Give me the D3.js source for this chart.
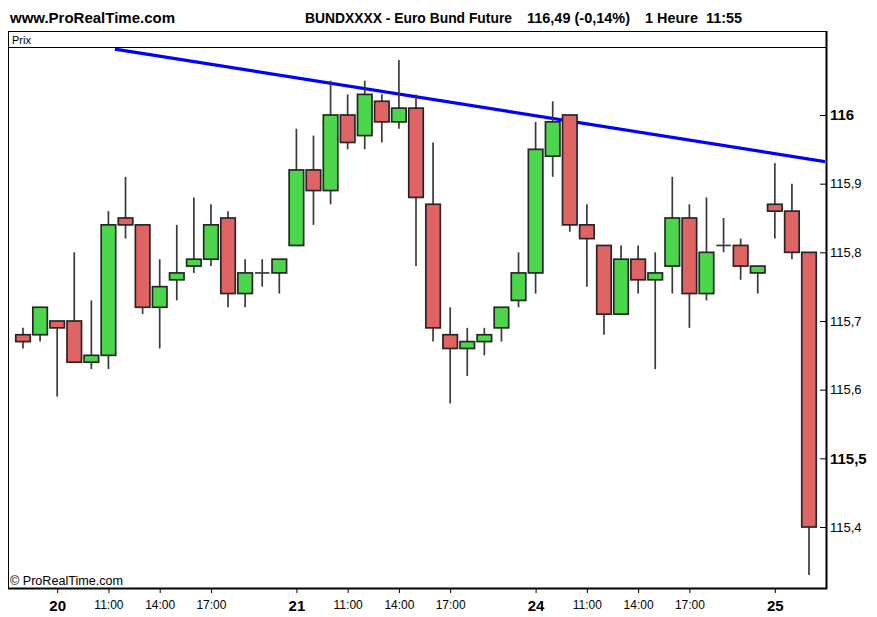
<!DOCTYPE html>
<html><head><meta charset="utf-8">
<script src="https://cdn.jsdelivr.net/npm/d3@7"></script>
<style>body{margin:0;background:#fff}svg{display:block}text{font-family:"Liberation Sans",Arial,sans-serif}</style>
</head><body>
<svg id="c" width="877" height="617"></svg>
<script>
// ---- data ----
const categories = [
 "19 20:00","19 21:00",
 "20 08:00","20 09:00","20 10:00","20 11:00","20 12:00","20 13:00","20 14:00","20 15:00","20 16:00","20 17:00","20 18:00","20 19:00","20 20:00","20 21:00",
 "21 08:00","21 09:00","21 10:00","21 11:00","21 12:00","21 13:00","21 14:00","21 15:00","21 16:00","21 17:00","21 18:00","21 19:00","21 20:00","21 21:00",
 "24 08:00","24 09:00","24 10:00","24 11:00","24 12:00","24 13:00","24 14:00","24 15:00","24 16:00","24 17:00","24 18:00","24 19:00","24 20:00","24 21:00",
 "25 08:00","25 09:00","25 10:00"];
const open  = [115.68,115.68,115.70,115.70,115.64,115.65,115.85,115.84,115.72,115.76,115.78,115.79,115.85,115.74,115.77,115.77,
               115.81,115.92,115.89,116.00,115.97,116.02,115.99,116.01,115.87,115.68,115.66,115.67,115.69,115.73,
               115.77,115.94,116.00,115.84,115.81,115.71,115.79,115.76,115.78,115.85,115.74,115.81,115.81,115.77,
               115.87,115.86,115.80];
const high  = [115.69,115.72,115.70,115.80,115.73,115.86,115.91,115.84,115.79,115.84,115.88,115.87,115.86,115.79,115.79,115.79,
               115.98,115.97,116.05,116.03,116.05,116.03,116.08,116.03,115.96,115.72,115.69,115.69,115.72,115.80,
               115.99,116.02,116.00,115.87,115.81,115.81,115.81,115.80,115.91,115.87,115.88,115.85,115.82,115.78,
               115.93,115.90,115.80];
const low   = [115.66,115.67,115.59,115.64,115.63,115.63,115.82,115.71,115.66,115.73,115.77,115.78,115.72,115.72,115.75,115.74,
               115.81,115.84,115.87,115.95,115.95,115.96,115.98,115.78,115.67,115.58,115.62,115.65,115.67,115.72,
               115.74,115.91,115.83,115.75,115.68,115.71,115.74,115.63,115.74,115.69,115.73,115.80,115.76,115.74,
               115.82,115.79,115.33];
const close = [115.67,115.72,115.69,115.64,115.65,115.84,115.84,115.72,115.75,115.77,115.79,115.84,115.74,115.77,115.77,115.79,
               115.92,115.89,116.00,115.96,116.03,115.99,116.01,115.88,115.69,115.66,115.67,115.68,115.72,115.77,
               115.95,115.99,115.84,115.82,115.71,115.79,115.76,115.77,115.85,115.74,115.80,115.81,115.78,115.78,
               115.86,115.80,115.40];
// trend line (fractional bar index, price)
const trendIdx = [5.38, 47.0];
const trendVal = [116.096, 115.932];
const yTicks = [115.4,115.5,115.6,115.7,115.8,115.9,116];
const yBold = [115.5,116];
const dayTicks = ["20 08:00","21 08:00","24 08:00","25 08:00"];
const dayLabels = ["20","21","24","25"];
const hourTicks = ["20 11:00","20 14:00","20 17:00","21 11:00","21 14:00","21 17:00","24 11:00","24 14:00","24 17:00"];
const hourLabels = ["11:00","14:00","17:00","11:00","14:00","17:00","11:00","14:00","17:00"];
const titleParts = ["www.ProRealTime.com","BUNDXXXX - Euro Bund Future","116,49 (-0,14%)","1 Heure  11:55"];

// ---- layout ----
const L=8, R=826, T=47, B=588, boxTop=31;
const svg=d3.select("#c");
const x=d3.scalePoint().domain(categories).range([23,809]);
const step=x.step();
const y=d3.scaleLinear().domain([115.4,116]).range([527,115]);
const bw=14.5;
const up="#4cd64c", dn="#e06464", edge="#262626";

// header
const tpos=[[10,165],[305,207],[527,103],[645,97]];
svg.selectAll("text.title").data(titleParts).join("text").attr("class","title")
  .attr("x",(d,i)=>tpos[i][0]).attr("y",23).attr("textLength",(d,i)=>tpos[i][1]).attr("lengthAdjust","spacingAndGlyphs")
  .attr("font-size",15).attr("font-weight","bold").attr("fill","#000").attr("xml:space","preserve").style("white-space","pre").text(d=>d);

// frame
svg.append("rect").attr("x",L+0.5).attr("y",boxTop+0.5).attr("width",R-L).attr("height",B-boxTop).attr("fill","none").attr("stroke","#000");
svg.append("line").attr("x1",L).attr("x2",R).attr("y1",T+0.5).attr("y2",T+0.5).attr("stroke","#000");
svg.append("text").attr("x",12).attr("y",44).attr("font-size",11).attr("fill","#000").text("Prix");

const g=svg.append("g");
g.append("clipPath").attr("id","clip").append("rect").attr("x",L+1).attr("y",T+1).attr("width",R-L-2).attr("height",B-T-2);
const plot=g.append("g").attr("clip-path","url(#clip)");

// trend line
const xi=i=>x(categories[0])+i*step;
plot.append("line").attr("x1",xi(trendIdx[0])).attr("y1",y(trendVal[0])).attr("x2",xi(trendIdx[1])).attr("y2",y(trendVal[1]))
  .attr("stroke","#0000ff").attr("stroke-width",3.2);

// candles
const data=categories.map((c,i)=>({c,o:open[i],h:high[i],l:low[i],cl:close[i]}));
const cg=plot.selectAll("g.candle").data(data).join("g").attr("class","candle");
cg.append("line").attr("x1",d=>x(d.c)).attr("x2",d=>x(d.c)).attr("y1",d=>y(d.h)).attr("y2",d=>y(d.l))
  .attr("stroke","#3a3a3a").attr("stroke-width",1.7);
cg.filter(d=>d.o!==d.cl).append("rect")
  .attr("x",d=>x(d.c)-bw/2).attr("width",bw)
  .attr("y",d=>y(Math.max(d.o,d.cl))).attr("height",d=>Math.abs(y(d.o)-y(d.cl)))
  .attr("fill",d=>d.cl>d.o?up:dn).attr("stroke",edge).attr("stroke-width",1.7);
cg.filter(d=>d.o===d.cl).append("line")
  .attr("x1",d=>x(d.c)-bw/2).attr("x2",d=>x(d.c)+bw/2).attr("y1",d=>y(d.o)).attr("y2",d=>y(d.o))
  .attr("stroke","#3a3a3a").attr("stroke-width",1.7);

// right axis
svg.append("line").attr("x1",R+0.5).attr("x2",R+0.5).attr("y1",boxTop).attr("y2",B+1).attr("stroke","#000").attr("stroke-width",2);
const ya=svg.append("g").attr("transform",`translate(${R},0)`)
  .call(d3.axisRight(y).tickValues(yTicks).tickSize(0).tickPadding(4).tickFormat(d=>d3.format(",")(d).replace(".",",")));
ya.select(".domain").remove();
ya.selectAll(".tick line").attr("x1",-6).attr("x2",0).attr("stroke","#000");
ya.selectAll(".tick text").attr("font-family","Liberation Sans, Arial, sans-serif")
  .attr("font-size",d=>yBold.includes(d)?15:13).attr("font-weight",d=>yBold.includes(d)?"bold":"normal").attr("fill","#000");

// bottom axis
svg.append("line").attr("x1",L).attr("x2",R+1).attr("y1",B+0.5).attr("y2",B+0.5).attr("stroke","#000").attr("stroke-width",2);
const xa=svg.append("g").attr("transform",`translate(0,${B})`)
  .call(d3.axisBottom(x).tickValues(dayTicks.concat(hourTicks)).tickSize(5).tickPadding(7)
    .tickFormat(d=>{const k=dayTicks.indexOf(d);return k>=0?dayLabels[k]:hourLabels[hourTicks.indexOf(d)];}));
xa.select(".domain").remove();
xa.selectAll(".tick line").attr("stroke","#000");
xa.selectAll(".tick text").attr("font-family","Liberation Sans, Arial, sans-serif")
  .attr("font-size",d=>dayTicks.includes(d)?15:12).attr("font-weight",d=>dayTicks.includes(d)?"bold":"normal").attr("fill","#000");

svg.append("text").attr("x",10).attr("y",585).attr("font-size",12).attr("textLength",113).attr("lengthAdjust","spacingAndGlyphs")
  .attr("fill","#000").text("© ProRealTime.com");
</script>
</body></html>
